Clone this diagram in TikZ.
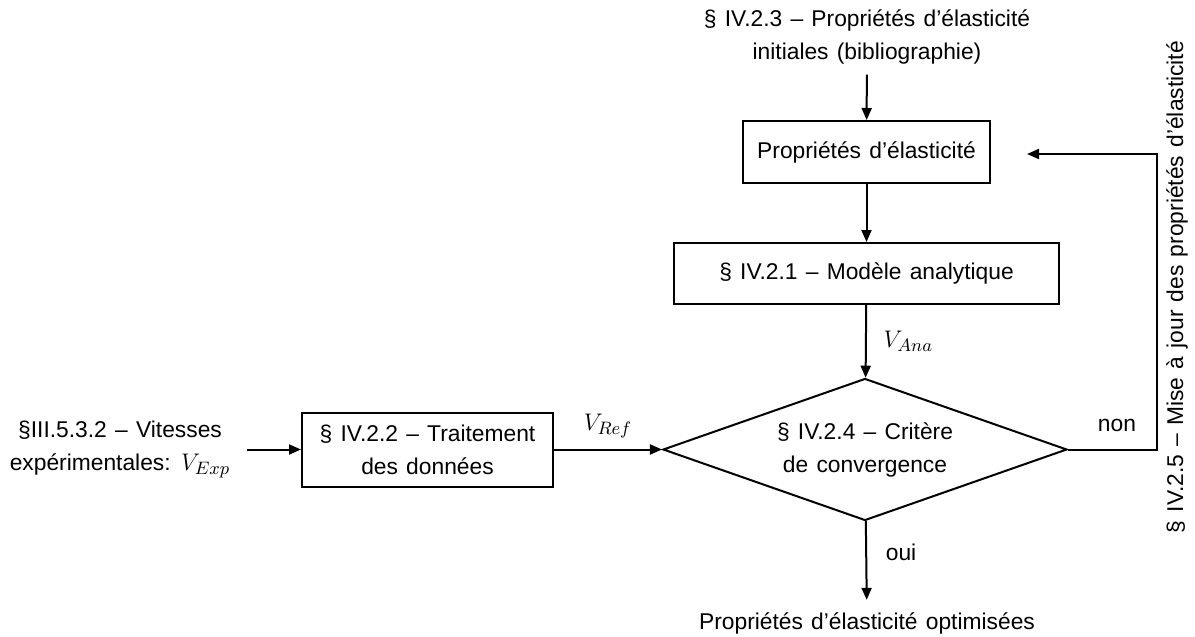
\documentclass[tikz,border=0pt]{standalone}
\usepackage{fontspec}
\setmainfont{Liberation Sans}[WordSpace=1.3]
\usetikzlibrary{shapes.geometric,arrows.meta}
\begin{document}
\begin{tikzpicture}[x=0.5pt,y=-0.5pt,
  every node/.style={font=\fontsize{11.4}{16.5}\selectfont},
  box/.style={draw, line width=1pt, inner sep=0pt, align=center},
  dec/.style={draw, diamond, aspect=2.85, minimum width=202pt, minimum height=71pt, inner sep=0pt, align=center, line width=1pt},
  arr/.style={-{Triangle[length=6pt,width=5pt]}, line width=1pt},
  plain/.style={align=center, inner sep=0pt},
  mathlbl/.style={font=\fontsize{13}{16}\selectfont}]
\useasboundingbox (0,0) rectangle (1195,637);
\node[plain, inner sep=5pt] (top) at (867,37) {§ IV.2.3 – Propriétés d’élasticité\\initiales (bibliographie)};
\node[box, minimum width=123.5pt, minimum height=31pt] (b1) at (866.5,152) {Propriétés d’élasticité};
\node[box, minimum width=192.5pt, minimum height=30.5pt] (b2) at (866.5,273.5) {§ IV.2.1 – Modèle analytique};
\node[dec] (dec) at (865,449.5) {§ IV.2.4 – Critère\\de convergence};
\node[box, minimum width=125.5pt, minimum height=37pt] (b3) at (427.5,449.5) {§ IV.2.2 – Traitement\\des données};
\node[plain, inner sep=8pt] (lt) at (120,449.5) {§III.5.3.2 – Vitesses\\expérimentales: {\fontsize{13}{16}\selectfont$V_{Exp}$}};
\node[plain, inner sep=6pt] (bot) at (867,623) {Propriétés d’élasticité optimisées};
\node[plain, rotate=90] (upd) at (1177,287) {§ IV.2.5 – Mise à jour des propriétés d’élasticité};
\coordinate (c1) at (1157,449.5);
\coordinate (c2) at (1157,154);
\coordinate (tip) at (1027,154);
\draw[arr] (top) -- (b1);
\draw[arr] (b1) -- (b2);
\draw[arr] (b2) -- node[right=5pt, mathlbl] (vana) {$V_{Ana}$} (dec);
\draw[arr] (lt) -- (b3);
\draw[arr] (b3) -- node[above=2pt, mathlbl] (vref) {$V_{Ref}$} (dec);
\draw[arr] (dec) -- node[right=6pt, pos=0.4] (oui) {oui} (bot);
\draw[arr] (dec.east) -- node[above=5pt, pos=0.55] (non) {non} (c1) -- (c2) -- (tip);
\end{tikzpicture}
\end{document}
